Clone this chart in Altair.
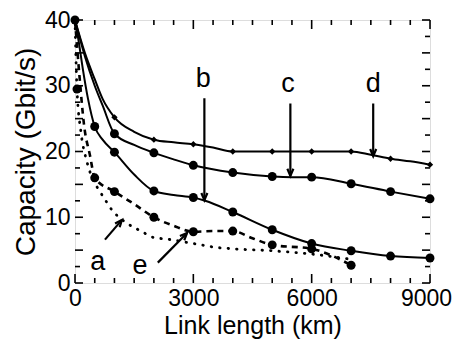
import altair as alt
import pandas as pd

# ---- data ----
d_x = [0, 250, 500, 700, 1000, 1500, 2000, 2500, 3000, 3500, 4000, 5000, 6000, 7000, 7500, 8000, 8500, 9000]
d_y = [40, 35, 31, 28, 25.2, 23, 21.8, 21.4, 21.1, 20.6, 20, 20, 20, 20, 19.5, 18.9, 18.5, 18]
d_mx = [1000, 2000, 3000, 4000, 5000, 6000, 7000, 8000, 9000]
d_my = [25.2, 21.8, 21.1, 20, 20, 20, 20, 18.9, 18]

c_x = [0, 250, 500, 700, 1000, 1500, 2000, 2500, 3000, 4000, 5000, 5500, 6000, 7000, 8000, 9000]
c_y = [40, 34.5, 30, 27, 22.7, 21, 19.8, 18.8, 17.9, 16.8, 16.2, 16.1, 16.1, 15.1, 13.9, 12.8]
c_mx = [1000, 2000, 3000, 4000, 5000, 6000, 7000, 8000, 9000]
c_my = [22.7, 19.8, 17.9, 16.8, 16.2, 16.1, 15.1, 13.9, 12.8]

b_x = [0, 100, 200, 330, 500, 700, 1000, 1500, 2000, 2500, 3000, 3300, 4000, 5000, 6000, 7000, 8000, 9000]
b_y = [40, 36.5, 32.5, 28, 23.8, 21.8, 19.9, 16.5, 14, 13.4, 13, 12.5, 10.8, 8.1, 6, 4.9, 4.1, 3.8]
b_mx = [500, 1000, 2000, 3000, 4000, 5000, 6000, 7000, 8000, 9000]
b_my = [23.8, 19.9, 14, 13, 10.8, 8.1, 6, 4.9, 4.1, 3.8]

e_x = [0, 120, 230, 380, 500, 1000, 1500, 2000, 2500, 3000, 3500, 4000, 4500, 5000, 6000, 6500, 7000]
e_y = [40, 31, 24, 19.4, 16, 13.9, 12, 10, 8.7, 7.8, 7.9, 7.9, 6.8, 5.8, 5.2, 4.2, 2.7]
e_mx = [500, 1000, 2000, 3000, 4000, 5000, 6000, 7000]
e_my = [16, 13.9, 10, 7.8, 7.9, 5.8, 5.2, 2.7]

a_x = [0, 50, 150, 300, 450, 600, 750, 950, 1200, 1700, 2000, 2300, 3000, 3600, 4000, 5000, 6000, 7000]
a_y = [40, 29.5, 23, 18.5, 15.8, 14.2, 12.8, 11, 9.6, 7.8, 6.9, 6.7, 6.0, 5.4, 5.2, 4.9, 4.4, 3.6]
a_mx = [0, 50]
a_my = [40, 29.5]

# annotations (arrows and letters)
arr_name = ["b", "c", "d", "a", "e"]
arr_x0 = [3280, 5460, 7560, 760, 2100]
arr_y0 = [28.1, 27.3, 27.3, 6.6, 3.1]
arr_x1 = [3280, 5460, 7560, 1190, 2840]
arr_y1 = [12.6, 16.3, 19.3, 9.6, 7.6]
arr_angle = [0, 0, 0, 220, 224]
lab_x = [3250, 5400, 7560, 580, 1650]
lab_y = [31.0, 30.2, 30.2, 3.2, 2.6]

# tick positions
x_major = [0, 3000, 6000, 9000]
x_minor = [v for v in range(0, 9001, 500) if v not in x_major]
y_major = [0, 5, 10, 15, 20, 25, 30, 35, 40]
y_minor = [2.5, 7.5, 12.5, 17.5, 22.5, 27.5, 32.5, 37.5]

W, H = 355, 263

lines = pd.concat([
    pd.DataFrame({"x": d_x, "y": d_y, "s": "d"}),
    pd.DataFrame({"x": c_x, "y": c_y, "s": "c"}),
    pd.DataFrame({"x": b_x, "y": b_y, "s": "b"}),
]).reset_index(drop=True)
dash_e = pd.DataFrame({"x": e_x, "y": e_y, "s": "e"})
dot_a = pd.DataFrame({"x": a_x, "y": a_y, "s": "a"})

big_pts = pd.concat([
    pd.DataFrame({"x": c_mx, "y": c_my}),
    pd.DataFrame({"x": b_mx, "y": b_my}),
    pd.DataFrame({"x": e_mx, "y": e_my}),
    pd.DataFrame({"x": a_mx, "y": a_my}),
]).reset_index(drop=True)
small_pts = pd.DataFrame({"x": d_mx, "y": d_my})

arrows = pd.DataFrame({"n": arr_name, "x0": arr_x0, "y0": arr_y0, "x1": arr_x1,
                       "y1": arr_y1, "ang": arr_angle, "lx": lab_x, "ly": lab_y})

xs = alt.Scale(domain=[0, 9000], nice=False, zero=False)
ys = alt.Scale(domain=[0, 40], nice=False, zero=False)

FONT = "Liberation Sans"

x_enc = alt.X("x:Q", scale=xs, axis=alt.Axis(
    values=x_major, format="d", ticks=False, domain=False, grid=False,
    labelFlush=False, labelOverlap=False,
    labelOffset=alt.condition("datum.value == 9000", alt.value(-4), alt.value(0)),
    labelFontSize=23, labelPadding=4, labelColor="black", labelFont=FONT,
    title="Link length (km)", titleFontSize=25, titleFontWeight="normal",
    titleFont=FONT, titleColor="black", titlePadding=3))
y_enc = alt.Y("y:Q", scale=ys, axis=alt.Axis(
    values=y_major, ticks=False, domain=False, grid=False,
    labelFlush=False, labelOverlap=False,
    labelFontSize=23, labelPadding=5, labelColor="black", labelFont=FONT,
    title="Capacity (Gbit/s)", titleFontSize=28, titleFontWeight="normal",
    titleFont=FONT, titleColor="black", titlePadding=4))

base_lines = alt.Chart(lines).mark_line(
    color="black", strokeWidth=2, interpolate="monotone"
).encode(x=x_enc, y=y_enc, detail="s:N")

e_line = alt.Chart(dash_e).mark_line(
    color="black", strokeWidth=2.6, strokeDash=[6, 5], interpolate="monotone"
).encode(x=alt.X("x:Q", scale=xs), y=alt.Y("y:Q", scale=ys))

a_line = alt.Chart(dot_a).mark_line(
    color="black", strokeWidth=2.8, strokeDash=[0.5, 8], strokeCap="round",
    interpolate="monotone"
).encode(x=alt.X("x:Q", scale=xs), y=alt.Y("y:Q", scale=ys))

big = alt.Chart(big_pts).mark_point(
    shape="circle", filled=True, color="black", size=80, opacity=1
).encode(x=alt.X("x:Q", scale=xs), y=alt.Y("y:Q", scale=ys))

small = alt.Chart(small_pts).mark_point(
    shape="diamond", filled=True, color="black", size=40, opacity=1
).encode(x=alt.X("x:Q", scale=xs), y=alt.Y("y:Q", scale=ys))

arrow_lines = alt.Chart(arrows).mark_rule(color="black", strokeWidth=2.2).encode(
    x=alt.X("x0:Q", scale=xs), y=alt.Y("y0:Q", scale=ys),
    x2="x1:Q", y2="y1:Q")

arrow_heads = alt.Chart(arrows).mark_point(
    shape="M-0.55,-1.3L0,0L0.55,-1.3", filled=False, color="black",
    strokeWidth=2.2, size=120, opacity=1
).encode(x=alt.X("x1:Q", scale=xs), y=alt.Y("y1:Q", scale=ys),
         angle=alt.Angle("ang:Q", scale=None))

labels = alt.Chart(arrows).mark_text(
    font=FONT, fontSize=27, color="black", baseline="middle", align="center"
).encode(x=alt.X("lx:Q", scale=xs), y=alt.Y("ly:Q", scale=ys), text="n:N")

def tick_layer(vals, axis, length):
    df = pd.DataFrame({"v": vals})
    layers = []
    if axis == "x":
        for y0 in (H, 0):
            y1 = H - length if y0 == H else length
            layers.append(alt.Chart(df).mark_rule(color="black", strokeWidth=1.6).encode(
                x=alt.X("v:Q", scale=xs), y=alt.value(y0), y2=alt.value(y1)))
    else:
        for x0 in (0, W):
            x1 = length if x0 == 0 else W - length
            layers.append(alt.Chart(df).mark_rule(color="black", strokeWidth=1.6).encode(
                y=alt.Y("v:Q", scale=ys), x=alt.value(x0), x2=alt.value(x1)))
    return layers

ticks = (tick_layer(x_major, "x", 9) + tick_layer(x_minor, "x", 5)
         + tick_layer(y_major, "y", 8) + tick_layer(y_minor, "y", 5))

chart = alt.layer(
    base_lines, e_line, a_line, big, small, arrow_lines, arrow_heads, labels, *ticks
).properties(
    width=W, height=H,
    autosize=alt.AutoSizeParams(type="none"),
    padding={"left": 67, "top": 12, "right": 23, "bottom": 56},
).configure_view(
    stroke="black", strokeWidth=2.6
).configure(background="white")

chart.save("out.html", embed_options={"renderer": "svg", "actions": False})
